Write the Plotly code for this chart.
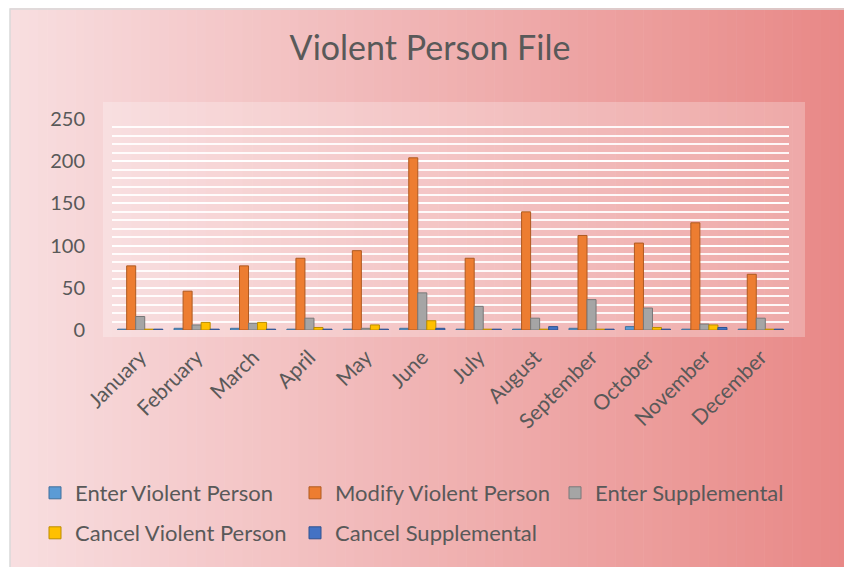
import plotly.graph_objects as go

months = ["January", "February", "March", "April", "May", "June", "July",
          "August", "September", "October", "November", "December"]
enter_violent = [1, 2, 2, 1, 1, 2, 1, 1, 2, 4, 1, 1]
modify_violent = [76, 46, 76, 85, 94, 204, 85, 140, 112, 103, 127, 66]
enter_supp = [16, 6, 8, 14, 2, 44, 28, 14, 36, 26, 7, 14]
cancel_violent = [1, 9, 9, 3, 6, 11, 1, 1, 1, 3, 6, 1]
cancel_supp = [1, 1, 1, 1, 1, 2, 1, 4, 1, 1, 3, 1]
y_ticks = [0, 50, 100, 150, 200, 250]

W, H = 852, 567
OFF = 8  # page body margin offset
# plot area box in page pixels
L, R, T, B = 112, 789, 119, 330


def px(x):
    return (x - L) / (R - L)


def py(y):
    return (B - y) / (B - T)


FONT = "Lato"
TXT = "#595959"

series = [
    ("Enter Violent Person", enter_violent, "#5B9BD5", "#41719C", "legend"),
    ("Modify Violent Person", modify_violent, "#ED7D31", "#AE5A21", "legend"),
    ("Enter Supplemental", enter_supp, "#A5A5A5", "#787878", "legend"),
    ("Cancel Violent Person", cancel_violent, "#FFC000", "#BC8C00", "legend2"),
    ("Cancel Supplemental", cancel_supp, "#4472C4", "#2F528F", "legend2"),
]

fig = go.Figure()
for name, vals, col, edge, lg in series:
    fig.add_trace(go.Bar(x=months, y=vals, name=name, legend=lg,
                         marker=dict(color=col, line=dict(color=edge, width=1))))

# background gradient (left light pink -> right salmon)
shapes = []
n = 90
x0p, x1p = 10, 848
c0 = (248, 222, 224)
c1 = (232, 136, 134)
for i in range(n):
    a = x0p + (x1p - x0p) * i / n
    b = x0p + (x1p - x0p) * (i + 1) / n + 0.6
    t = (i + 0.5) / n
    c = tuple(round(c0[k] + (c1[k] - c0[k]) * t) for k in range(3))
    shapes.append(dict(type="rect", xref="paper", yref="paper",
                       x0=px(a), x1=px(b), y0=py(590), y1=py(3),
                       fillcolor="rgb(%d,%d,%d)" % c, line=dict(width=0),
                       layer="below"))
# border (bottom edge runs past the visible window)
shapes.append(dict(type="rect", xref="paper", yref="paper",
                   x0=px(10), x1=px(848), y0=py(585), y1=py(9),
                   line=dict(color="#D9D9D9", width=1.5), layer="below"))
# lighter plot area
shapes.append(dict(type="rect", xref="paper", yref="paper",
                   x0=px(103), x1=px(805), y0=py(337), y1=py(102),
                   fillcolor="rgba(255,255,255,0.25)", line=dict(width=0),
                   layer="below"))

LEG_FONT = dict(family=FONT, size=22, color=TXT)
fig.update_layout(
    width=W, height=H,
    margin=dict(l=L - OFF, r=W - (R - OFF), t=T - OFF, b=H - (B - OFF),
                pad=0, autoexpand=False),
    paper_bgcolor="white",
    plot_bgcolor="rgba(0,0,0,0)",
    shapes=shapes,
    barmode="group", bargap=0.2, bargroupgap=0,
    title=dict(text="Violent Person File", x=(430 - OFF) / W, xanchor="center",
               y=1 - (48 - OFF) / H, yanchor="middle",
               font=dict(family=FONT, size=34, color=TXT)),
    font=dict(family=FONT, color=TXT),
    legend=dict(orientation="h", x=px(35), xanchor="left",
                y=py(472), yanchor="top", entrywidth=215,
                font=LEG_FONT, bgcolor="rgba(0,0,0,0)", traceorder="normal"),
    legend2=dict(orientation="h", x=px(35), xanchor="left",
                 y=py(512), yanchor="top", entrywidth=215,
                 font=LEG_FONT, bgcolor="rgba(0,0,0,0)", traceorder="normal"),
    xaxis=dict(tickangle=-45, tickfont=dict(family=FONT, size=21, color=TXT),
               showgrid=False, showline=False, ticks="", zeroline=False,
               ticklabelstandoff=10),
    yaxis=dict(range=[0, 250], tickvals=y_ticks,
               tickfont=dict(family=FONT, size=20, color=TXT),
               showgrid=True, gridcolor="rgba(255,255,255,0.9)", gridwidth=2,
               minor=dict(dtick=10, showgrid=True,
                          gridcolor="rgba(255,255,255,0.9)", gridwidth=2),
               zeroline=False, showline=False, ticks="",
               ticklabelstandoff=26),
)

fig.write_html("out.html")
